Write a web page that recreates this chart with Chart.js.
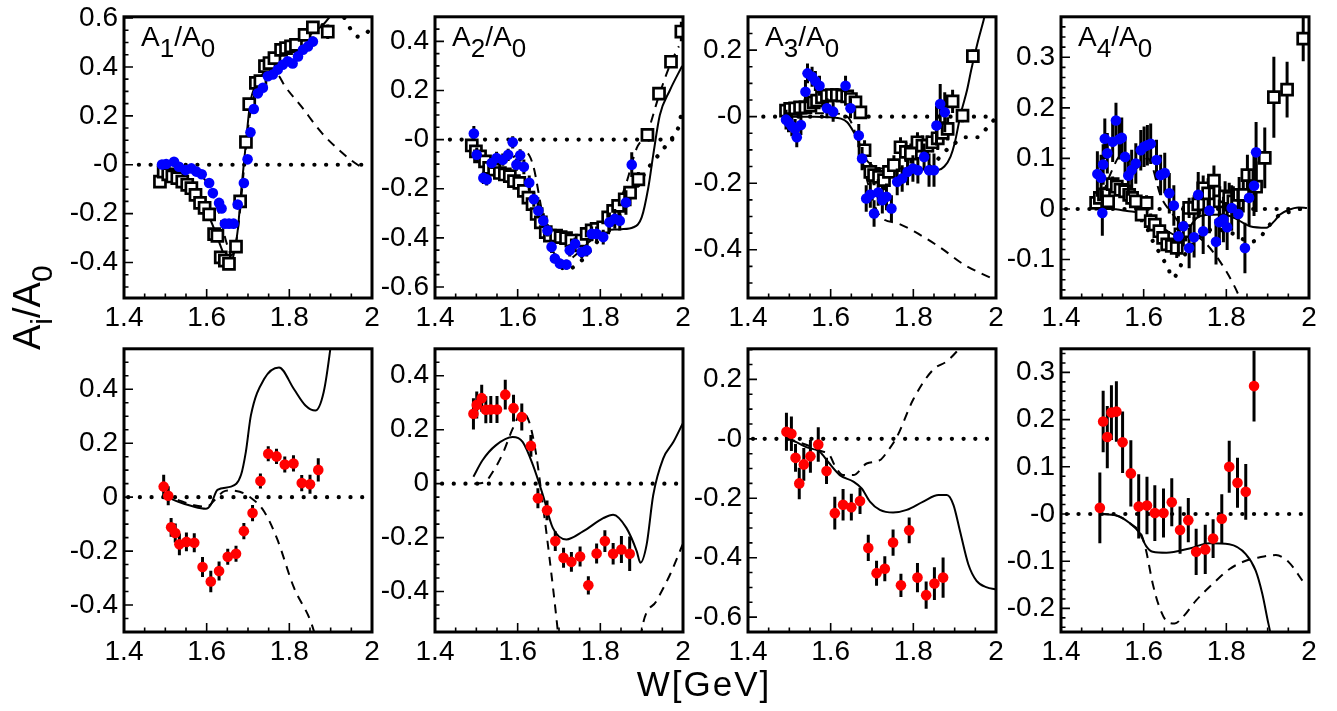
<!DOCTYPE html>
<html>
<head>
<meta charset="utf-8">
<script src="https://cdn.jsdelivr.net/npm/chart.js@4.4.1/dist/chart.umd.min.js"></script>
<style>
html,body{margin:0;padding:0;background:#fff;width:1337px;height:711px;overflow:hidden;font-family:"Liberation Sans",Arial,Helvetica,sans-serif;}
#wrap{position:relative;width:1337px;height:711px;}
#wrap canvas{position:absolute;}
.ptitle{position:absolute;font-size:28px;line-height:1;color:#000;white-space:nowrap;z-index:5;}
.ptitle sub{font-size:26px;vertical-align:-11px;line-height:0;}
#ytitle{position:absolute;left:8px;top:350px;transform-origin:left top;transform:rotate(-90deg);font-size:38px;line-height:1;white-space:nowrap;z-index:5;}
#ytitle sub{font-size:30px;vertical-align:-12px;line-height:0;}
#xtitle{position:absolute;left:704px;top:666px;transform:translateX(-50%);font-size:35px;letter-spacing:2px;line-height:1;white-space:nowrap;z-index:5;}
</style>
</head>
<body>
<div id="wrap"></div>
<script>
// ---------------- axis ticks ----------------
const xTickValues = [1.4, 1.6, 1.8, 2.0];
const xTickLabels = ['1.4', '1.6', '1.8', '2'];

const p1YTicks = [-0.4, -0.2, 0, 0.2, 0.4, 0.6];
const p1YLabels = ['-0.4', '-0.2', '-0', '0.2', '0.4', '0.6'];
const p2YTicks = [-0.6, -0.4, -0.2, 0, 0.2, 0.4];
const p2YLabels = ['-0.6', '-0.4', '-0.2', '-0', '0.2', '0.4'];
const p3YTicks = [-0.4, -0.2, 0, 0.2];
const p3YLabels = ['-0.4', '-0.2', '-0', '0.2'];
const p4YTicks = [-0.1, 0, 0.1, 0.2, 0.3];
const p4YLabels = ['-0.1', '0', '0.1', '0.2', '0.3'];
const p5YTicks = [-0.4, -0.2, 0, 0.2, 0.4];
const p5YLabels = ['-0.4', '-0.2', '0', '0.2', '0.4'];
const p6YTicks = [-0.4, -0.2, 0, 0.2, 0.4];
const p6YLabels = ['-0.4', '-0.2', '0', '0.2', '0.4'];
const p7YTicks = [-0.6, -0.4, -0.2, 0, 0.2];
const p7YLabels = ['-0.6', '-0.4', '-0.2', '-0', '0.2'];
const p8YTicks = [-0.2, -0.1, 0, 0.1, 0.2, 0.3];
const p8YLabels = ['-0.2', '-0.1', '-0', '0.1', '0.2', '0.3'];

// ---------------- panel 1 : A1/A0 ----------------
const p1SqW = [1.487,1.496,1.507,1.517,1.529,1.541,1.553,1.563,1.573,1.584,1.595,1.606,1.618,1.626,1.634,1.644,1.654,1.671,1.681,1.695,1.703,1.719,1.730,1.741,1.752,1.764,1.780,1.792,1.804,1.816,1.837,1.857,1.893];
const p1SqV = [-0.069,-0.028,-0.039,-0.048,-0.055,-0.069,-0.082,-0.096,-0.123,-0.156,-0.176,-0.203,-0.284,-0.291,-0.379,-0.392,-0.405,-0.335,-0.150,0.093,0.248,0.335,0.342,0.403,0.416,0.436,0.470,0.477,0.484,0.490,0.531,0.562,0.544];
const p1SqE = [0.02,0.015,0.015,0.015,0.015,0.015,0.015,0.015,0.015,0.015,0.015,0.02,0.02,0.02,0.02,0.02,0.02,0.02,0.02,0.02,0.02,0.02,0.02,0.02,0.02,0.02,0.02,0.02,0.02,0.02,0.025,0.025,0.03];
const p1BlW = [1.492,1.502,1.521,1.533,1.549,1.563,1.575,1.588,1.606,1.615,1.630,1.636,1.644,1.654,1.665,1.675,1.690,1.699,1.706,1.714,1.724,1.736,1.748,1.760,1.772,1.784,1.796,1.808,1.821,1.833,1.845,1.857];
const p1BlV = [0.001,0.003,0.012,-0.008,-0.022,-0.015,-0.028,-0.039,-0.075,-0.116,-0.156,-0.179,-0.241,-0.241,-0.241,-0.163,-0.075,0.022,0.133,0.228,0.292,0.315,0.362,0.369,0.389,0.409,0.423,0.414,0.443,0.470,0.484,0.504];
const p1BlE = [0.012,0.012,0.012,0.012,0.012,0.012,0.012,0.012,0.012,0.015,0.015,0.015,0.015,0.015,0.015,0.015,0.015,0.015,0.015,0.015,0.015,0.015,0.015,0.015,0.015,0.015,0.015,0.015,0.015,0.015,0.015,0.02];
const p1SolW = [1.48,1.50,1.52,1.54,1.56,1.58,1.60,1.62,1.64,1.655,1.665,1.675,1.685,1.695,1.705,1.72,1.74,1.76,1.80,1.84,1.88,1.90,1.92];
const p1SolV = [-0.005,-0.02,-0.035,-0.055,-0.085,-0.13,-0.19,-0.27,-0.36,-0.41,-0.37,-0.27,-0.08,0.09,0.25,0.33,0.38,0.42,0.47,0.52,0.57,0.61,0.66];
const p1DashW = [1.48,1.52,1.56,1.59,1.61,1.63,1.65,1.66,1.67,1.68,1.69,1.70,1.72,1.74,1.76,1.772,1.79,1.828,1.877,1.925,1.966,1.975];
const p1DashV = [0.0,0.0,-0.02,-0.05,-0.1,-0.2,-0.33,-0.37,-0.33,-0.2,-0.02,0.15,0.31,0.36,0.385,0.37,0.32,0.241,0.133,0.053,-0.001,-0.008];
const p1DotW = [1.88,1.90,1.915,1.934,1.95,1.966,1.98,1.99];
const p1DotV = [0.57,0.62,0.64,0.598,0.55,0.524,0.53,0.544];

// ---------------- panel 2 : A2/A0 ----------------
const p2SqW = [1.489,1.499,1.509,1.521,1.531,1.543,1.557,1.569,1.581,1.591,1.604,1.615,1.626,1.636,1.646,1.656,1.668,1.678,1.693,1.704,1.717,1.730,1.743,1.755,1.767,1.779,1.791,1.807,1.819,1.831,1.843,1.859,1.872,1.892,1.914,1.942,1.971,1.996];
const p2SqV = [-0.024,-0.048,-0.068,-0.089,-0.115,-0.122,-0.136,-0.142,-0.149,-0.169,-0.176,-0.209,-0.236,-0.263,-0.303,-0.337,-0.377,-0.391,-0.391,-0.397,-0.401,-0.411,-0.431,-0.411,-0.384,-0.370,-0.364,-0.357,-0.317,-0.290,-0.270,-0.243,-0.216,-0.162,0.019,0.187,0.317,0.44];
const p2SqE = [0.02,0.02,0.02,0.02,0.02,0.02,0.02,0.02,0.02,0.02,0.02,0.02,0.02,0.02,0.02,0.02,0.02,0.02,0.02,0.02,0.02,0.02,0.02,0.02,0.02,0.02,0.02,0.02,0.025,0.025,0.025,0.025,0.025,0.03,0.02,0.02,0.02,0.04];
const p2BlW = [1.494,1.501,1.517,1.525,1.537,1.549,1.564,1.577,1.588,1.597,1.606,1.615,1.628,1.639,1.650,1.662,1.672,1.682,1.690,1.702,1.718,1.726,1.739,1.755,1.767,1.779,1.791,1.807,1.822,1.835,1.847,1.862,1.876];
const p2BlV = [0.025,-0.062,-0.156,-0.162,-0.095,-0.075,-0.082,-0.062,-0.011,-0.102,-0.064,-0.111,-0.176,-0.243,-0.290,-0.330,-0.370,-0.437,-0.484,-0.505,-0.509,-0.451,-0.424,-0.458,-0.451,-0.384,-0.384,-0.397,-0.337,-0.323,-0.330,-0.256,-0.102];
const p2BlE = [0.03,0.03,0.025,0.025,0.025,0.025,0.025,0.025,0.025,0.025,0.025,0.03,0.03,0.03,0.03,0.03,0.025,0.025,0.02,0.02,0.02,0.025,0.025,0.025,0.025,0.03,0.03,0.03,0.04,0.04,0.04,0.05,0.05];
const p2SolW = [1.485,1.52,1.56,1.60,1.64,1.67,1.70,1.74,1.78,1.807,1.85,1.88,1.90,1.916,1.928,1.944,1.968,1.998];
const p2SolV = [-0.02,-0.08,-0.13,-0.18,-0.28,-0.37,-0.40,-0.41,-0.38,-0.37,-0.365,-0.357,-0.317,-0.196,-0.062,0.10,0.20,0.30];
const p2DashW = [1.49,1.53,1.57,1.60,1.622,1.638,1.66,1.69,1.71,1.74,1.77,1.80,1.84,1.863,1.888,1.914,1.942,1.97,1.99];
const p2DashV = [-0.02,-0.08,-0.09,-0.06,-0.055,-0.109,-0.3,-0.47,-0.5,-0.47,-0.42,-0.38,-0.28,-0.176,-0.035,0.03,0.18,0.31,0.38];
const p2DotW = [1.68,1.70,1.714,1.75,1.80,1.85,1.88,1.91,1.928,1.948,1.97,1.985,1.997];
const p2DotV = [-0.44,-0.5,-0.531,-0.5,-0.4,-0.3,-0.22,-0.13,-0.089,-0.048,0.0,0.03,0.11];

// ---------------- panel 3 : A3/A0 ----------------
const p3SqW = [1.492,1.502,1.514,1.526,1.539,1.551,1.559,1.567,1.579,1.591,1.603,1.615,1.628,1.640,1.649,1.660,1.672,1.682,1.696,1.705,1.717,1.729,1.741,1.753,1.769,1.782,1.794,1.810,1.822,1.834,1.846,1.859,1.871,1.883,1.895,1.919,1.944];
const p3SqV = [0.018,0.023,0.025,0.028,0.028,0.033,0.043,0.048,0.058,0.063,0.065,0.065,0.063,0.061,0.053,0.043,0.013,-0.101,-0.166,-0.176,-0.181,-0.191,-0.166,-0.146,-0.092,-0.106,-0.111,-0.077,-0.087,-0.087,-0.077,-0.065,-0.049,-0.037,0.046,0.003,0.182];
const p3SqE = [0.02,0.02,0.02,0.02,0.02,0.02,0.02,0.02,0.02,0.02,0.02,0.02,0.02,0.02,0.02,0.02,0.02,0.03,0.03,0.03,0.03,0.03,0.03,0.03,0.03,0.03,0.03,0.03,0.03,0.03,0.03,0.035,0.035,0.035,0.035,0.02,0.02];
const p3BlW = [1.492,1.498,1.506,1.514,1.518,1.528,1.539,1.544,1.555,1.563,1.573,1.591,1.606,1.636,1.648,1.668,1.676,1.686,1.696,1.705,1.715,1.725,1.735,1.747,1.761,1.773,1.786,1.799,1.811,1.826,1.838,1.850,1.856,1.865,1.876];
const p3BlV = [-0.009,-0.017,-0.029,-0.037,-0.062,-0.025,0.075,0.130,0.120,0.107,0.093,0.025,0.015,0.093,0.025,-0.057,-0.126,-0.246,-0.234,-0.291,-0.228,-0.251,-0.241,-0.276,-0.196,-0.186,-0.166,-0.156,-0.161,-0.121,-0.161,-0.161,-0.027,0.038,0.013];
const p3BlE = [0.03,0.03,0.03,0.03,0.03,0.03,0.035,0.03,0.03,0.03,0.03,0.03,0.03,0.03,0.03,0.035,0.035,0.04,0.04,0.04,0.04,0.04,0.04,0.04,0.04,0.04,0.04,0.04,0.04,0.04,0.05,0.05,0.06,0.06,0.06];
const p3SolW = [1.485,1.52,1.56,1.60,1.625,1.64,1.656,1.668,1.684,1.70,1.72,1.75,1.80,1.84,1.86,1.875,1.89,1.90,1.915,1.93,1.94,1.955,1.97,1.98];
const p3SolV = [0.0,0.0,0.0,-0.002,-0.006,-0.017,-0.047,-0.077,-0.126,-0.146,-0.156,-0.156,-0.155,-0.16,-0.16,-0.15,-0.12,-0.08,0.01,0.08,0.14,0.22,0.29,0.34];
const p3DashW = [1.485,1.55,1.60,1.64,1.66,1.69,1.713,1.73,1.761,1.802,1.867,1.923,1.988];
const p3DashV = [0.0,0.01,0.01,0.0,-0.05,-0.2,-0.286,-0.31,-0.32,-0.345,-0.395,-0.445,-0.485];
const p3DotW = [1.84,1.865,1.883,1.90,1.927,1.956,1.976,1.995];
const p3DotV = [-0.15,-0.121,-0.097,-0.08,-0.062,-0.062,-0.037,-0.01];

// ---------------- panel 4 : A4/A0 ----------------
const p4SqW = [1.485,1.494,1.504,1.514,1.525,1.535,1.544,1.555,1.565,1.572,1.581,1.595,1.607,1.617,1.627,1.638,1.647,1.657,1.668,1.680,1.689,1.700,1.710,1.722,1.732,1.744,1.756,1.770,1.784,1.797,1.807,1.817,1.831,1.841,1.851,1.872,1.893,1.915,1.947,1.986];
const p4SqV = [0.012,0.022,0.029,0.015,0.049,0.044,0.038,0.035,0.028,0.022,0.015,-0.011,0.012,-0.024,-0.031,-0.044,-0.057,-0.070,-0.073,-0.077,-0.050,-0.044,0.002,0.002,0.009,0.041,0.031,0.056,0.015,0.025,0.022,0.015,0.028,0.028,0.067,0.044,0.101,0.221,0.236,0.337];
const p4SqE = [0.015,0.015,0.015,0.015,0.015,0.015,0.015,0.015,0.015,0.015,0.015,0.015,0.015,0.015,0.015,0.015,0.015,0.015,0.015,0.02,0.02,0.02,0.02,0.025,0.025,0.025,0.03,0.03,0.03,0.03,0.03,0.03,0.035,0.035,0.04,0.05,0.06,0.08,0.055,0.045];
const p4BlW = [1.488,1.497,1.500,1.502,1.506,1.512,1.525,1.533,1.541,1.547,1.555,1.563,1.571,1.581,1.593,1.601,1.609,1.617,1.631,1.641,1.651,1.662,1.673,1.684,1.696,1.710,1.722,1.732,1.744,1.759,1.775,1.783,1.793,1.802,1.813,1.829,1.845,1.855,1.867,1.872];
const p4BlV = [0.069,0.062,-0.008,0.088,0.139,0.110,0.133,0.175,0.138,0.141,0.103,0.066,0.077,0.090,0.116,0.123,0.126,0.129,0.097,0.067,0.071,0.031,0.007,-0.054,-0.034,-0.077,-0.056,0.028,-0.044,-0.003,-0.065,-0.026,-0.021,-0.036,0.002,-0.010,-0.077,0.022,0.046,0.112];
const p4BlE = [0.045,0.045,0.045,0.04,0.04,0.04,0.04,0.035,0.04,0.04,0.04,0.04,0.04,0.04,0.04,0.04,0.04,0.04,0.04,0.04,0.04,0.04,0.04,0.04,0.04,0.04,0.04,0.045,0.045,0.045,0.045,0.045,0.045,0.045,0.045,0.05,0.05,0.055,0.06,0.06];
const p4SolW = [1.485,1.52,1.56,1.60,1.63,1.66,1.69,1.728,1.75,1.793,1.82,1.857,1.897,1.915,1.93,1.95,1.975,1.995];
const p4SolV = [0.0,0.0,-0.004,-0.01,-0.025,-0.045,-0.055,-0.018,-0.012,-0.011,-0.018,-0.034,-0.037,-0.025,-0.011,-0.002,0.003,0.002];
const p4DashW = [1.49,1.52,1.55,1.58,1.61,1.643,1.67,1.70,1.744,1.784,1.821,1.84];
const p4DashV = [0.0,0.07,0.11,0.08,0.10,0.022,-0.01,-0.04,-0.063,-0.103,-0.155,-0.19];
const p4DotW = [1.60,1.62,1.647,1.66,1.67,1.686,1.70,1.73,1.77,1.82,1.857,1.881,1.899,1.93,1.958,1.978,1.995];
const p4DotV = [-0.02,-0.06,-0.099,-0.119,-0.137,-0.119,-0.09,-0.06,-0.04,-0.05,-0.065,-0.057,-0.037,-0.011,-0.005,0.0,0.0];

// ---------------- panel 5 (bottom 1) ----------------
const p5RedW = [1.496,1.507,1.514,1.524,1.534,1.551,1.570,1.590,1.610,1.630,1.651,1.671,1.690,1.711,1.730,1.749,1.769,1.789,1.810,1.830,1.850,1.870];
const p5RedV = [0.039,0.005,-0.112,-0.133,-0.175,-0.166,-0.169,-0.259,-0.313,-0.274,-0.221,-0.210,-0.126,-0.059,0.060,0.161,0.151,0.121,0.125,0.052,0.048,0.101];
const p5RedE = [0.044,0.035,0.035,0.035,0.04,0.035,0.035,0.037,0.04,0.035,0.03,0.03,0.03,0.03,0.028,0.028,0.028,0.03,0.03,0.03,0.035,0.043];
const p5SolW = [1.494,1.53,1.566,1.598,1.61,1.626,1.659,1.683,1.695,1.707,1.739,1.775,1.811,1.839,1.863,1.883,1.899,1.91];
const p5SolV = [0.009,-0.016,-0.034,-0.043,-0.028,0.027,0.039,0.082,0.17,0.303,0.438,0.481,0.401,0.340,0.321,0.389,0.548,0.7];
const p5DashW = [1.494,1.53,1.57,1.60,1.62,1.64,1.655,1.68,1.703,1.739,1.771,1.811,1.851,1.87];
const p5DashV = [0.01,-0.01,-0.03,-0.035,-0.01,0.02,0.025,0.02,0.002,-0.053,-0.157,-0.335,-0.458,-0.55];

// ---------------- panel 6 (bottom 2) ----------------
const p6RedW = [1.493,1.501,1.513,1.523,1.535,1.550,1.570,1.590,1.610,1.632,1.649,1.671,1.691,1.711,1.730,1.751,1.771,1.791,1.811,1.831,1.851,1.871];
const p6RedV = [0.259,0.292,0.317,0.274,0.275,0.275,0.330,0.280,0.247,0.140,-0.054,-0.099,-0.213,-0.275,-0.290,-0.270,-0.377,-0.259,-0.213,-0.260,-0.244,-0.260];
const p6RedE = [0.058,0.05,0.05,0.05,0.05,0.05,0.055,0.05,0.05,0.04,0.037,0.037,0.037,0.037,0.037,0.037,0.034,0.037,0.04,0.04,0.05,0.064];
const p6SolW = [1.493,1.515,1.547,1.588,1.612,1.637,1.661,1.685,1.718,1.758,1.807,1.831,1.863,1.888,1.897,1.912,1.928,1.952,1.977,1.999];
const p6SolV = [0.026,0.087,0.142,0.173,0.155,0.069,-0.042,-0.164,-0.207,-0.177,-0.128,-0.115,-0.164,-0.250,-0.293,-0.226,-0.042,0.093,0.155,0.222];
const p6DashW = [1.495,1.52,1.535,1.564,1.588,1.611,1.628,1.645,1.661,1.677,1.697,1.71,1.80,1.89,1.90,1.936,1.969,1.999];
const p6DashV = [0.0,0.005,0.032,0.112,0.204,0.265,0.228,0.106,-0.079,-0.275,-0.545,-0.75,-0.95,-0.7,-0.545,-0.434,-0.336,-0.226];

// ---------------- panel 7 (bottom 3) ----------------
const p7RedW = [1.493,1.505,1.515,1.524,1.535,1.551,1.570,1.590,1.610,1.630,1.650,1.671,1.691,1.711,1.731,1.751,1.770,1.790,1.810,1.831,1.851,1.872];
const p7RedV = [0.024,0.017,-0.064,-0.150,-0.086,-0.059,-0.019,-0.108,-0.250,-0.222,-0.230,-0.209,-0.367,-0.452,-0.437,-0.349,-0.493,-0.308,-0.467,-0.526,-0.487,-0.467];
const p7RedE = [0.064,0.058,0.047,0.053,0.055,0.055,0.058,0.044,0.055,0.053,0.045,0.044,0.044,0.042,0.042,0.044,0.039,0.043,0.049,0.046,0.055,0.068];
const p7SolW = [1.493,1.517,1.541,1.574,1.594,1.622,1.655,1.675,1.695,1.719,1.751,1.784,1.824,1.861,1.881,1.897,1.913,1.933,1.953,1.978,1.998];
const p7SolV = [0.002,-0.011,-0.028,-0.044,-0.078,-0.122,-0.144,-0.167,-0.211,-0.239,-0.248,-0.239,-0.211,-0.189,-0.189,-0.222,-0.311,-0.422,-0.478,-0.5,-0.506];
const p7DashW = [1.493,1.52,1.55,1.575,1.598,1.61,1.63,1.655,1.687,1.719,1.739,1.76,1.80,1.848,1.881,1.905,1.92];
const p7DashV = [0.002,-0.01,-0.025,-0.04,-0.056,-0.09,-0.122,-0.122,-0.083,-0.072,-0.039,0.006,0.133,0.233,0.261,0.294,0.32];

// ---------------- panel 8 (bottom 4) ----------------
const p8RedW = [1.494,1.502,1.512,1.522,1.534,1.549,1.569,1.588,1.608,1.627,1.648,1.668,1.688,1.708,1.727,1.749,1.768,1.789,1.807,1.827,1.847,1.867];
const p8RedV = [0.013,0.196,0.163,0.215,0.217,0.152,0.086,0.016,0.018,0.002,0.002,0.025,-0.034,-0.013,-0.080,-0.075,-0.052,-0.010,0.100,0.066,0.047,0.271];
const p8RedE = [0.075,0.065,0.066,0.058,0.064,0.065,0.07,0.068,0.061,0.059,0.052,0.051,0.05,0.047,0.049,0.052,0.041,0.052,0.055,0.053,0.059,0.075];
const p8SolW = [1.494,1.534,1.566,1.59,1.606,1.622,1.655,1.711,1.759,1.807,1.847,1.871,1.887,1.90,1.906,1.915];
const p8SolV = [0.0,-0.003,-0.019,-0.04,-0.068,-0.08,-0.082,-0.073,-0.062,-0.064,-0.085,-0.12,-0.169,-0.225,-0.25,-0.3];
const p8DashW = [1.494,1.53,1.57,1.595,1.606,1.622,1.638,1.658,1.675,1.695,1.727,1.767,1.807,1.847,1.879,1.92,1.952,1.984];
const p8DashV = [0.0,-0.002,-0.022,-0.045,-0.078,-0.148,-0.197,-0.229,-0.232,-0.218,-0.183,-0.148,-0.117,-0.099,-0.092,-0.087,-0.103,-0.141];

// dotted zero reference line start points
const zeroLineStart = [1.436, 1.436, 1.437, 1.412, 1.41, 1.417, 1.412, 1.414];
const zeroLineEnd = 1.995;

// ---------------- panel layout ----------------
const COLS = [124, 435, 748, 1061];
const panels = [
  {col:0, top:14, h:284, yMin:-0.545, yMax:0.605, yT:p1YTicks, yL:p1YLabels, yMajor:0.2, yMinor:0.05, title:'A<sub>1</sub>/A<sub>0</sub>',
   sq:[p1SqW,p1SqV,p1SqE], bl:[p1BlW,p1BlV,p1BlE], sol:[p1SolW,p1SolV], dash:[p1DashW,p1DashV], dot:[p1DotW,p1DotV]},
  {col:1, top:14, h:284, yMin:-0.645, yMax:0.5, yT:p2YTicks, yL:p2YLabels, yMajor:0.2, yMinor:0.05, title:'A<sub>2</sub>/A<sub>0</sub>',
   sq:[p2SqW,p2SqV,p2SqE], bl:[p2BlW,p2BlV,p2BlE], sol:[p2SolW,p2SolV], dash:[p2DashW,p2DashV], dot:[p2DotW,p2DotV]},
  {col:2, top:14, h:284, yMin:-0.545, yMax:0.3, yT:p3YTicks, yL:p3YLabels, yMajor:0.2, yMinor:0.05, title:'A<sub>3</sub>/A<sub>0</sub>',
   sq:[p3SqW,p3SqV,p3SqE], bl:[p3BlW,p3BlV,p3BlE], sol:[p3SolW,p3SolV], dash:[p3DashW,p3DashV], dot:[p3DotW,p3DotV]},
  {col:3, top:14, h:284, yMin:-0.176, yMax:0.38, yT:p4YTicks, yL:p4YLabels, yMajor:0.1, yMinor:0.02, title:'A<sub>4</sub>/A<sub>0</sub>',
   sq:[p4SqW,p4SqV,p4SqE], bl:[p4BlW,p4BlV,p4BlE], sol:[p4SolW,p4SolV], dash:[p4DashW,p4DashV], dot:[p4DotW,p4DotV]},
  {col:0, top:346, h:286, yMin:-0.5, yMax:0.55, yT:p5YTicks, yL:p5YLabels, yMajor:0.2, yMinor:0.05,
   red:[p5RedW,p5RedV,p5RedE], sol:[p5SolW,p5SolV], dash:[p5DashW,p5DashV]},
  {col:1, top:346, h:286, yMin:-0.55, yMax:0.5, yT:p6YTicks, yL:p6YLabels, yMajor:0.2, yMinor:0.05,
   red:[p6RedW,p6RedV,p6RedE], sol:[p6SolW,p6SolV], dash:[p6DashW,p6DashV]},
  {col:2, top:346, h:286, yMin:-0.65, yMax:0.303, yT:p7YTicks, yL:p7YLabels, yMajor:0.2, yMinor:0.05,
   red:[p7RedW,p7RedV,p7RedE], sol:[p7SolW,p7SolV], dash:[p7DashW,p7DashV]},
  {col:3, top:346, h:286, yMin:-0.25, yMax:0.35, yT:p8YTicks, yL:p8YLabels, yMajor:0.1, yMinor:0.02,
   red:[p8RedW,p8RedV,p8RedE], sol:[p8SolW,p8SolV], dash:[p8DashW,p8DashV]}
];

Chart.defaults.font.family = '"Liberation Sans", Arial, Helvetica, sans-serif';
Chart.defaults.color = '#000';

const framePlugin = {
  id: 'frame',
  afterDatasetsDraw(chart, args, opts) {
    const ctx = chart.ctx, a = chart.chartArea;
    const xs = chart.scales.x, ys = chart.scales.y;
    ctx.save();
    ctx.strokeStyle = '#000';
    ctx.lineWidth = 1.6;
    ctx.beginPath();
    for (let k = 0; k <= 12; k++) {
      const px = xs.getPixelForValue(1.4 + k * 0.05);
      const len = (k % 4 === 0) ? 9 : 4.5;
      ctx.moveTo(px, a.bottom); ctx.lineTo(px, a.bottom - len);
    }
    const k0 = Math.ceil(ys.min / opts.yMinor - 1e-6), k1 = Math.floor(ys.max / opts.yMinor + 1e-6);
    for (let k = k0; k <= k1; k++) {
      const v = k * opts.yMinor;
      const r = v / opts.yMajor;
      const isMaj = Math.abs(r - Math.round(r)) < 1e-6;
      const py = ys.getPixelForValue(v);
      ctx.moveTo(a.left, py); ctx.lineTo(a.left + (isMaj ? 9 : 4.5), py);
    }
    ctx.stroke();
    ctx.lineWidth = 3;
    ctx.strokeRect(a.left, a.top, a.right - a.left, a.bottom - a.top);
    ctx.restore();
  }
};

function xy(ws, vs) { return ws.map((w, i) => ({x: w, y: vs[i]})); }
function errSegs(ws, vs, es) {
  const out = [];
  ws.forEach((w, i) => { out.push({x: w, y: vs[i] - es[i]}, {x: w, y: vs[i] + es[i]}, {x: w, y: null}); });
  return out;
}
function markerSet(data, opts) {
  return Object.assign({data: data, showLine: false, clip: 0}, opts);
}
function errSet(data) {
  return {data: data, showLine: true, spanGaps: false, borderColor: '#000', borderWidth: 3, pointRadius: 0, tension: 0, borderCapStyle: 'butt', clip: 0};
}
function curveSet(data, dash, width) {
  return {data: data, showLine: true, borderColor: '#000', borderWidth: width, borderDash: dash, pointRadius: 0,
          cubicInterpolationMode: 'monotone', clip: 0};
}
function dotSet(data) {
  return {data: data, showLine: true, borderColor: '#000', borderWidth: 4.2, borderDash: [0.1, 11.6], borderCapStyle: 'round',
          pointRadius: 0, cubicInterpolationMode: 'monotone', clip: 0};
}

const wrap = document.getElementById('wrap');
const PADL = 90, PADT = 20, PADR = 20, PADB = 50, FW = 248;

panels.forEach((p, idx) => {
  const cv = document.createElement('canvas');
  const cw = PADL + FW + PADR, ch = PADT + p.h + PADB;
  cv.width = cw; cv.height = ch;
  cv.style.width = cw + 'px'; cv.style.height = ch + 'px';
  cv.style.left = (COLS[p.col] - PADL) + 'px';
  cv.style.top = (p.top - PADT) + 'px';
  wrap.appendChild(cv);

  const ds = [];
  if (p.bl) {
    ds.push(markerSet(xy(p.bl[0], p.bl[1]), {pointRadius: 5.3, pointBackgroundColor: '#0000ff', pointBorderColor: '#0000ff', pointBorderWidth: 0}));
    ds.push(errSet(errSegs(p.bl[0], p.bl[1], p.bl[2])));
  }
  if (p.sq) {
    ds.push(markerSet(xy(p.sq[0], p.sq[1]), {pointStyle: 'rect', pointRadius: 7.8, pointBackgroundColor: '#ffffff', pointBorderColor: '#000', pointBorderWidth: 2.7}));
    ds.push(errSet(errSegs(p.sq[0], p.sq[1], p.sq[2])));
  }
  if (p.red) {
    ds.push(markerSet(xy(p.red[0], p.red[1]), {pointRadius: 5.3, pointBackgroundColor: '#ff0000', pointBorderColor: '#ff0000', pointBorderWidth: 0}));
    ds.push(errSet(errSegs(p.red[0], p.red[1], p.red[2])));
  }
  ds.push(curveSet(xy(p.sol[0], p.sol[1]), [], 2));
  ds.push(curveSet(xy(p.dash[0], p.dash[1]), [9, 7], 2));
  if (p.dot) ds.push(dotSet(xy(p.dot[0], p.dot[1])));
  ds.push(dotSet([{x: zeroLineStart[idx], y: 0}, {x: zeroLineEnd, y: 0}]));

  new Chart(cv, {
    type: 'scatter',
    data: {datasets: ds},
    options: {
      responsive: false, animation: false, events: [],
      layout: {padding: {left: 0, top: PADT, right: PADR, bottom: 0}},
      plugins: {legend: {display: false}, tooltip: {enabled: false}, frame: {yMajor: p.yMajor, yMinor: p.yMinor}},
      scales: {
        x: {
          type: 'linear', min: 1.4, max: 2.0,
          grid: {display: false, drawTicks: false}, border: {display: false},
          afterBuildTicks: s => { s.ticks = xTickValues.map(v => ({value: v})); },
          afterFit: s => { s.height = PADB; },
          ticks: {autoSkip: false, maxRotation: 0, padding: 3, font: {size: 28}, color: '#000',
                  callback: (v, i) => xTickLabels[i]}
        },
        y: {
          type: 'linear', min: p.yMin, max: p.yMax,
          grid: {display: false, drawTicks: false}, border: {display: false},
          afterBuildTicks: s => { s.ticks = p.yT.map(v => ({value: v})); },
          afterFit: s => { s.width = PADL; },
          ticks: {autoSkip: false, padding: 6, font: {size: 28}, color: '#000',
                  callback: (v, i) => p.yL[i]}
        }
      }
    },
    plugins: [framePlugin]
  });

  if (p.title) {
    const t = document.createElement('div');
    t.className = 'ptitle';
    t.innerHTML = p.title;
    t.style.left = (COLS[p.col] + 17) + 'px';
    t.style.top = '23px';
    wrap.appendChild(t);
  }
});

const yt = document.createElement('div');
yt.id = 'ytitle';
yt.innerHTML = 'A<sub>i</sub>/A<sub>0</sub>';
wrap.appendChild(yt);
const xt = document.createElement('div');
xt.id = 'xtitle';
xt.textContent = 'W[GeV]';
wrap.appendChild(xt);
</script>
</body>
</html>
